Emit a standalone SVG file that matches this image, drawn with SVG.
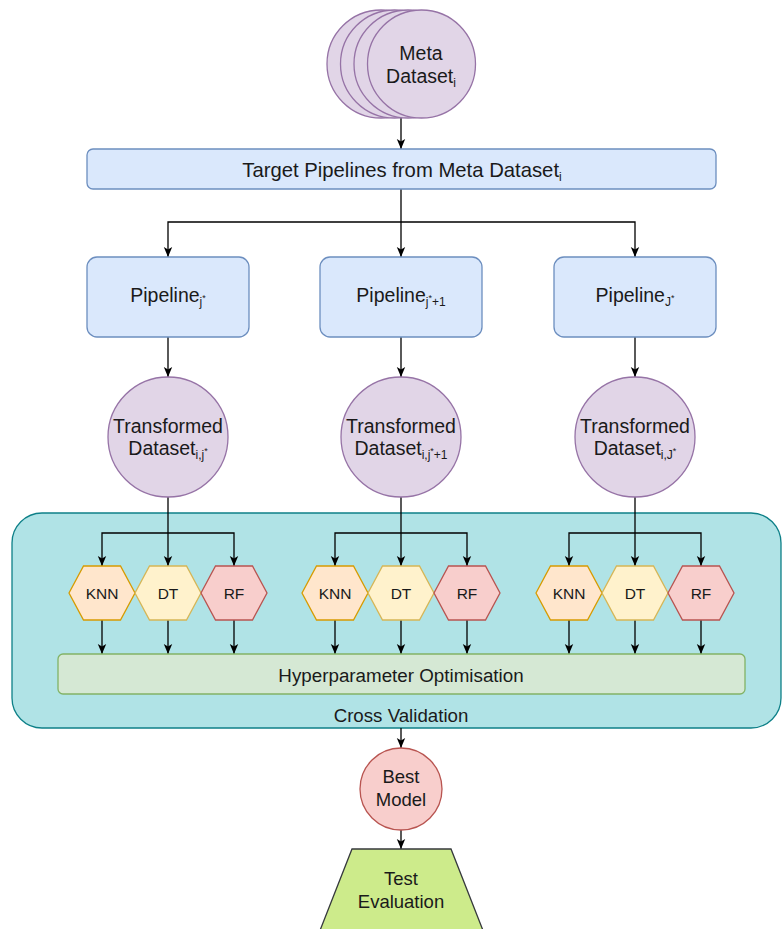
<svg xmlns="http://www.w3.org/2000/svg" width="782" height="929" viewBox="0 0 782 929">
<style>
text{font-family:"Liberation Sans",Arial,Helvetica,sans-serif;fill:#1a1a1a;text-anchor:middle}
.lbl{font-size:19.5px}
.hx{font-size:15.5px}
.sub{font-size:12px}
.sup{font-size:9px}
.pipe{fill:#dae8fc;stroke:#6c8ebf;stroke-width:1.3}
.circ{fill:#e1d5e7;stroke:#9673a6;stroke-width:1.3}
.knn{fill:#ffe6cc;stroke:#d79b00;stroke-width:1.3}
.dt{fill:#fff2cc;stroke:#d6b656;stroke-width:1.3}
.rf{fill:#f8cecc;stroke:#b85450;stroke-width:1.3}
.con{fill:none;stroke:#000;stroke-width:1.3}
.arr{marker-end:url(#ah)}
</style>
<defs>
<marker id="ah" markerUnits="userSpaceOnUse" markerWidth="10" markerHeight="10" refX="10" refY="5" orient="auto">
<path d="M0,0.8 L10,5 L0,9.2 L2.5,5 z" fill="#000"/>
</marker>
<polygon id="hex" points="-33,0 -18.5,-27 18.5,-27 33,0 18.5,27 -18.5,27"/>
</defs>
<rect width="782" height="929" fill="#fff"/>

<g id="cross-validation">
<rect x="12" y="513" width="769" height="215" rx="30" fill="#b0e3e6" stroke="#0e8088" stroke-width="1.3"/>
<text class="lbl" x="401" y="722" style="font-size:18.7px">Cross Validation</text>
</g>

<g id="connectors">
<line class="con arr" x1="401" y1="118" x2="401" y2="149"/>
<line class="con arr" x1="401" y1="189" x2="401" y2="257"/>
<polyline class="con arr" points="401,222 168,222 168,257"/>
<polyline class="con arr" points="401,222 635,222 635,257"/>
<line class="con arr" x1="168" y1="337" x2="168" y2="377"/>
<line class="con arr" x1="401" y1="337" x2="401" y2="377"/>
<line class="con arr" x1="635" y1="337" x2="635" y2="377"/>
<!-- left group -->
<line class="con arr" x1="168" y1="497" x2="168" y2="566"/>
<polyline class="con arr" points="168,533 102,533 102,566"/>
<polyline class="con arr" points="168,533 234,533 234,566"/>
<line class="con arr" x1="102" y1="620" x2="102" y2="654"/>
<line class="con arr" x1="168" y1="620" x2="168" y2="654"/>
<line class="con arr" x1="234" y1="620" x2="234" y2="654"/>
<!-- middle group -->
<line class="con arr" x1="401" y1="497" x2="401" y2="566"/>
<polyline class="con arr" points="401,533 335,533 335,566"/>
<polyline class="con arr" points="401,533 467,533 467,566"/>
<line class="con arr" x1="335" y1="620" x2="335" y2="654"/>
<line class="con arr" x1="401" y1="620" x2="401" y2="654"/>
<line class="con arr" x1="467" y1="620" x2="467" y2="654"/>
<!-- right group -->
<line class="con arr" x1="635" y1="497" x2="635" y2="566"/>
<polyline class="con arr" points="635,533 569,533 569,566"/>
<polyline class="con arr" points="635,533 701,533 701,566"/>
<line class="con arr" x1="569" y1="620" x2="569" y2="654"/>
<line class="con arr" x1="635" y1="620" x2="635" y2="654"/>
<line class="con arr" x1="701" y1="620" x2="701" y2="654"/>
<!-- bottom -->
<line class="con arr" x1="401" y1="728" x2="401" y2="748"/>
<line class="con arr" x1="401" y1="830" x2="401" y2="849"/>
</g>

<g id="meta-dataset">
<circle class="circ" cx="381" cy="64" r="54"/>
<circle class="circ" cx="394.5" cy="64" r="54"/>
<circle class="circ" cx="408" cy="64" r="54"/>
<circle class="circ" cx="421.5" cy="64" r="54"/>
<text class="lbl" x="421" y="60">Meta</text>
<text class="lbl" x="421" y="83">Dataset<tspan class="sub" dy="4">i</tspan></text>
</g>

<g id="target-pipelines">
<rect class="pipe" x="87" y="149" width="629" height="40" rx="6"/>
<text x="402" y="177" style="font-size:20.3px">Target Pipelines from Meta Dataset<tspan class="sub" dy="4">i</tspan></text>
</g>

<g id="pipeline-1">
<rect class="pipe" x="87" y="257" width="162" height="80" rx="10"/>
<text class="lbl" x="168" y="302">Pipeline<tspan class="sub" dy="4">j</tspan><tspan class="sup" dy="-5">*</tspan></text>
</g>
<g id="pipeline-2">
<rect class="pipe" x="320" y="257" width="162" height="80" rx="10"/>
<text class="lbl" x="401" y="302">Pipeline<tspan class="sub" dy="4">j</tspan><tspan class="sup" dy="-5">*</tspan><tspan class="sub" dy="5">+1</tspan></text>
</g>
<g id="pipeline-3">
<rect class="pipe" x="554" y="257" width="162" height="80" rx="10"/>
<text class="lbl" x="635" y="302">Pipeline<tspan class="sub" dy="4">J</tspan><tspan class="sup" dy="-5">*</tspan></text>
</g>

<g id="transformed-1">
<circle class="circ" cx="168" cy="437" r="60"/>
<text class="lbl" x="168" y="433">Transformed</text>
<text class="lbl" x="168" y="455">Dataset<tspan class="sub" dy="4">i,j</tspan><tspan class="sup" dy="-5">*</tspan></text>
</g>
<g id="transformed-2">
<circle class="circ" cx="401" cy="437" r="60"/>
<text class="lbl" x="401" y="433">Transformed</text>
<text class="lbl" x="401" y="455">Dataset<tspan class="sub" dy="4">i,j</tspan><tspan class="sup" dy="-5">*</tspan><tspan class="sub" dy="5">+1</tspan></text>
</g>
<g id="transformed-3">
<circle class="circ" cx="635" cy="437" r="60"/>
<text class="lbl" x="635" y="433">Transformed</text>
<text class="lbl" x="635" y="455">Dataset<tspan class="sub" dy="4">i,J</tspan><tspan class="sup" dy="-5">*</tspan></text>
</g>

<g id="knn-1"><use href="#hex" class="knn" x="102" y="593"/><text class="hx" x="102" y="599">KNN</text></g>
<g id="dt-1"><use href="#hex" class="dt" x="168" y="593"/><text class="hx" x="168" y="599">DT</text></g>
<g id="rf-1"><use href="#hex" class="rf" x="234" y="593"/><text class="hx" x="234" y="599">RF</text></g>
<g id="knn-2"><use href="#hex" class="knn" x="335" y="593"/><text class="hx" x="335" y="599">KNN</text></g>
<g id="dt-2"><use href="#hex" class="dt" x="401" y="593"/><text class="hx" x="401" y="599">DT</text></g>
<g id="rf-2"><use href="#hex" class="rf" x="467" y="593"/><text class="hx" x="467" y="599">RF</text></g>
<g id="knn-3"><use href="#hex" class="knn" x="569" y="593"/><text class="hx" x="569" y="599">KNN</text></g>
<g id="dt-3"><use href="#hex" class="dt" x="635" y="593"/><text class="hx" x="635" y="599">DT</text></g>
<g id="rf-3"><use href="#hex" class="rf" x="701" y="593"/><text class="hx" x="701" y="599">RF</text></g>

<g id="hyperparameter-optimisation">
<rect x="58" y="654" width="687" height="40" rx="5" fill="#d5e8d4" stroke="#82b366" stroke-width="1.3"/>
<text x="401" y="682" style="font-size:18.8px">Hyperparameter Optimisation</text>
</g>

<g id="best-model">
<circle cx="401" cy="789" r="41" fill="#f8cecc" stroke="#b85450" stroke-width="1.3"/>
<text x="401" y="783" style="font-size:18.5px">Best</text>
<text x="401" y="806" style="font-size:18.5px">Model</text>
</g>

<g id="test-evaluation">
<polygon points="352,849 451,849 484,933 319,933" fill="#cdeb8b" stroke="#36393d" stroke-width="1.3"/>
<text x="401" y="885" style="font-size:18.5px">Test</text>
<text x="401" y="908" style="font-size:18.5px">Evaluation</text>
</g>
</svg>
